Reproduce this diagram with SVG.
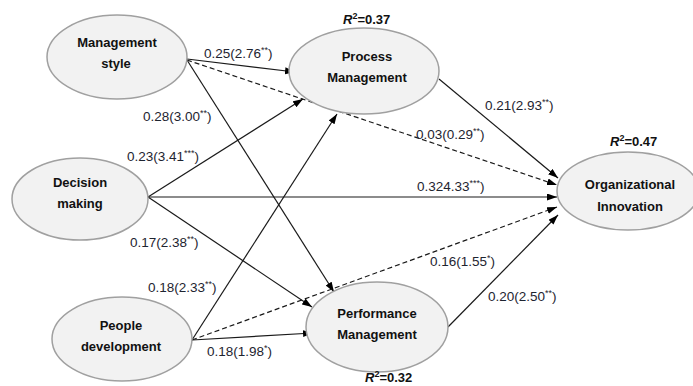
<svg xmlns="http://www.w3.org/2000/svg" width="693" height="386" viewBox="0 0 693 386">
<style>
.node ellipse{fill:#f2f2f2;stroke:#a0a0a0;stroke-width:1.5}
.node text{font-family:"Liberation Sans",Arial,sans-serif;font-weight:bold;font-size:13px;fill:#111;text-anchor:middle}
.lbl{font-family:"Liberation Sans",Arial,sans-serif;font-size:13.5px;fill:#1e2430}
.sup{font-size:9px}
.r2{font-family:"Liberation Sans",Arial,sans-serif;font-size:13px;font-weight:bold;fill:#111}
.edge{stroke:#1a1a1a;stroke-width:1.2;fill:none;marker-end:url(#ah)}
.dash{stroke-dasharray:5,3}
</style>
<defs>
<marker id="ah" markerUnits="userSpaceOnUse" markerWidth="11" markerHeight="8" refX="10" refY="3.5" orient="auto">
<path d="M0,0 L10,3.5 L0,7 z" fill="#000"/>
</marker>
</defs>
<rect width="693" height="386" fill="#fff"/>
<g id="connectors">
<line class="edge" x1="187" y1="59" x2="295" y2="72"/>
<line class="edge dash" x1="187" y1="60" x2="557" y2="185"/>
<line class="edge" x1="187" y1="60" x2="334" y2="292"/>
<line class="edge" x1="148" y1="197" x2="303" y2="99"/>
<line class="edge" x1="148" y1="197" x2="557" y2="197"/>
<line class="edge" x1="148" y1="197" x2="312" y2="307"/>
<line class="edge" x1="192" y1="340" x2="337" y2="114"/>
<line class="edge" x1="192" y1="340" x2="313" y2="333"/>
<line class="edge dash" x1="192" y1="340" x2="557" y2="207"/>
<line class="edge" x1="439" y1="79" x2="558" y2="178"/>
<line class="edge" x1="448" y1="327" x2="558" y2="215"/>
</g>
<g id="management-style" class="node">
<ellipse cx="117" cy="57" rx="70" ry="42"/>
<text x="117" y="47">Management</text>
<text x="116" y="68">style</text>
</g>
<g id="process-management" class="node">
<ellipse cx="364" cy="71" rx="75" ry="43"/>
<text x="367" y="61">Process</text>
<text x="367" y="82">Management</text>
</g>
<g id="decision-making" class="node">
<ellipse cx="80" cy="199" rx="68" ry="41"/>
<text x="80" y="187">Decision</text>
<text x="80" y="208">making</text>
</g>
<g id="organizational-innovation" class="node">
<ellipse cx="628" cy="191" rx="71" ry="39"/>
<text x="630" y="189">Organizational</text>
<text x="630" y="211">Innovation</text>
</g>
<g id="people-development" class="node">
<ellipse cx="122" cy="339" rx="70" ry="42"/>
<text x="121" y="330">People</text>
<text x="121" y="351">development</text>
</g>
<g id="performance-management" class="node">
<ellipse cx="377" cy="327" rx="71" ry="45"/>
<text x="377" y="318">Performance</text>
<text x="377" y="339">Management</text>
</g>
<g id="labels">
<text class="lbl" x="204" y="58">0.25(2.76<tspan class="sup" dy="-5">**</tspan><tspan dy="5">)</tspan></text>
<text class="lbl" x="143" y="121">0.28(3.00<tspan class="sup" dy="-5">**</tspan><tspan dy="5">)</tspan></text>
<text class="lbl" x="485" y="110">0.21(2.93<tspan class="sup" dy="-5">**</tspan><tspan dy="5">)</tspan></text>
<text class="lbl" x="416" y="139">0.03(0.29<tspan class="sup" dy="-5">**</tspan><tspan dy="5">)</tspan></text>
<text class="lbl" x="127" y="161">0.23(3.41<tspan class="sup" dy="-5">***</tspan><tspan dy="5">)</tspan></text>
<text class="lbl" x="417" y="191">0.324.33<tspan class="sup" dy="-5">***</tspan><tspan dy="5">)</tspan></text>
<text class="lbl" x="130" y="247">0.17(2.38<tspan class="sup" dy="-5">**</tspan><tspan dy="5">)</tspan></text>
<text class="lbl" x="430" y="266">0.16(1.55<tspan class="sup" dy="-5">*</tspan><tspan dy="5">)</tspan></text>
<text class="lbl" x="148" y="292">0.18(2.33<tspan class="sup" dy="-5">**</tspan><tspan dy="5">)</tspan></text>
<text class="lbl" x="207" y="356">0.18(1.98<tspan class="sup" dy="-5">*</tspan><tspan dy="5">)</tspan></text>
<text class="lbl" x="488" y="301">0.20(2.50<tspan class="sup" dy="-5">**</tspan><tspan dy="5">)</tspan></text>
<text class="r2" x="343" y="24"><tspan font-style="italic">R</tspan><tspan class="sup" dy="-5">2</tspan><tspan dy="5">=0.37</tspan></text>
<text class="r2" x="610" y="146"><tspan font-style="italic">R</tspan><tspan class="sup" dy="-5">2</tspan><tspan dy="5">=0.47</tspan></text>
<text class="r2" x="365" y="382"><tspan font-style="italic">R</tspan><tspan class="sup" dy="-5">2</tspan><tspan dy="5">=0.32</tspan></text>
</g>
</svg>
